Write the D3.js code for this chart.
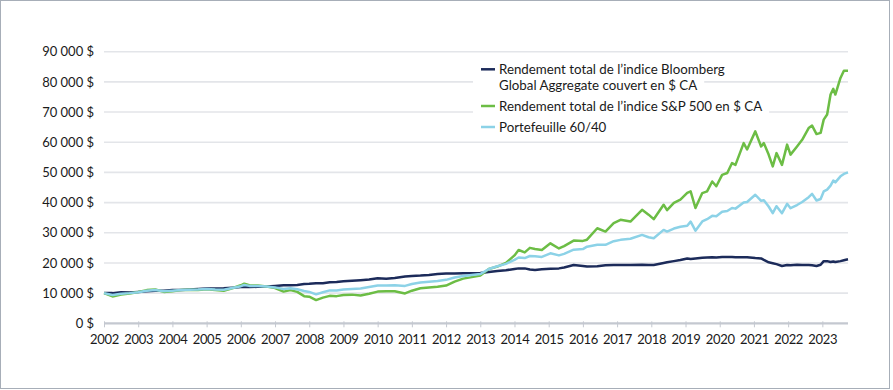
<!DOCTYPE html>
<html lang="fr">
<head>
<meta charset="utf-8">
<script src="https://cdn.jsdelivr.net/npm/d3@7"></script>
<style>
  html, body { margin: 0; padding: 0; background: #fff; }
  svg { display: block; font-family: Lato, "Open Sans", sans-serif; }
</style>
</head>
<body>
<svg id="chart"></svg>
<script>
// dates as decimal years, as placed on the chart's axis
const dates = [
  2002.00, 2002.25, 2002.50, 2002.75, 2003.00, 2003.25, 2003.50, 2003.75,
  2004.00, 2004.25, 2004.50, 2004.75, 2005.00, 2005.25, 2005.50, 2005.75,
  2006.00, 2006.10, 2006.25, 2006.50, 2006.75, 2007.00, 2007.25, 2007.45,
  2007.65, 2007.85, 2008.00, 2008.20, 2008.40, 2008.60, 2008.80, 2009.00,
  2009.25, 2009.50, 2009.75, 2010.00, 2010.25, 2010.50, 2010.80, 2011.00,
  2011.25, 2011.50, 2011.75, 2012.00, 2012.25, 2012.50, 2012.75, 2013.00,
  2013.25, 2013.50, 2013.75, 2014.00, 2014.12, 2014.30, 2014.45, 2014.60,
  2014.80, 2015.05, 2015.30, 2015.45, 2015.73, 2016.00, 2016.12, 2016.42,
  2016.66, 2016.90, 2017.10, 2017.39, 2017.73, 2017.92, 2018.07, 2018.36,
  2018.46, 2018.66, 2018.85, 2019.05, 2019.15, 2019.29, 2019.49, 2019.63,
  2019.78, 2019.90, 2020.07, 2020.22, 2020.36, 2020.46, 2020.70, 2020.80,
  2021.04, 2021.21, 2021.29, 2021.43, 2021.55, 2021.66, 2021.82, 2021.97,
  2022.07, 2022.26, 2022.41, 2022.60, 2022.70, 2022.83, 2022.95, 2023.04,
  2023.14, 2023.24, 2023.32, 2023.38, 2023.53, 2023.63, 2023.75
];

const bloomberg = [
  10000, 10000, 10300, 10200, 10400, 10600, 10800, 10800,
  11000, 11000, 11200, 11400, 11500, 11500, 11600, 11800,
  12000, 12000, 12000, 12100, 12200, 12400, 12600, 12600,
  12700, 13000, 13100, 13300, 13300, 13600, 13700, 13900,
  14100, 14300, 14500, 14900, 14800, 15000, 15500, 15700,
  15800, 16000, 16300, 16500, 16500, 16600, 16600, 16700,
  17000, 17300, 17600, 18000, 18200, 18200, 17800, 17700,
  17900, 18100, 18200, 18500, 19300, 19000, 18800, 18900,
  19200, 19300, 19350, 19300, 19400, 19300, 19350, 20000,
  20200, 20600, 21000, 21500, 21300, 21500, 21700, 21800,
  21900, 21800, 22000, 22000, 22000, 21900, 21900, 21900,
  21600, 21500, 21000, 20200, 19900, 19600, 19000, 19300,
  19200, 19400, 19300, 19300, 19200, 19000, 19400, 20600,
  20600, 20300, 20500, 20300, 20600, 20900, 21200
];

const sp500 = [
  10000, 8900, 9500, 9900, 10400, 11000, 11200, 10400,
  10600, 11000, 11100, 11000, 11300, 11000, 10800, 11600,
  12600, 13100, 12600, 12500, 12200, 11700, 10500, 11000,
  10400, 9000, 8800, 7700, 8500, 9100, 9000, 9400,
  9500, 9200, 9800, 10500, 10600, 10600, 9900, 10800,
  11600, 11900, 12100, 12500, 13800, 14800, 15300, 15800,
  18000, 18800, 20000, 22500, 24300, 23500, 25000, 24600,
  24300, 26500, 24800, 25600, 27400, 27300, 27700, 31500,
  30400, 33200, 34300, 33700, 37600, 36000, 34500, 39300,
  37500, 39900, 41000, 43200, 43700, 38200, 43150, 43700,
  47000, 45400, 49200, 49800, 53100, 52500, 59700, 57600,
  63600, 58600, 59700, 55900, 52000, 56400, 52500, 59200,
  55900, 58600, 60800, 64700, 65500, 62700, 63100, 67500,
  69200, 75800, 77700, 75800, 81300, 83700, 83700
];

const portfolio6040 = [
  10000, 9400, 9800, 10000, 10300, 10800, 11000, 10600,
  10800, 11000, 11100, 11200, 11400, 11200, 11100, 11700,
  12300, 12700, 12400, 12400, 12200, 11900, 11400, 11600,
  11300, 10700, 10400, 9600, 10300, 10900, 10900, 11200,
  11400, 11500, 12000, 12500, 12500, 12600, 12400, 13000,
  13500, 13800, 14000, 14400, 15200, 15700, 16000, 16300,
  18000, 18900, 19700, 21000, 21800, 21600, 22300, 22200,
  22000, 23200, 22500, 23000, 24400, 24600, 25400, 26000,
  26000, 27200, 27650, 28000, 29300, 28500, 28200, 30950,
  30400, 31400, 32000, 32300, 33700, 30700, 33750, 34500,
  35600, 35500, 37000, 37200, 38200, 38000, 40000, 40200,
  42600, 40600, 40800, 38700, 36500, 38800, 36500, 39600,
  38150, 39200, 40200, 41800, 42900, 40700, 41200, 43700,
  44300, 45600, 47300, 46700, 48700, 49500, 50000
];

const seriesNames = [
  ["Rendement total de l\u2019indice Bloomberg", "Global Aggregate couvert en $ CA"],
  ["Rendement total de l\u2019indice S&P 500 en $ CA"],
  ["Portefeuille 60/40"]
];
const seriesColors = ["#1c2b5a", "#6cbd45", "#8cd2e7"];
const seriesValues = [bloomberg, sp500, portfolio6040];

const yTicks = [0, 10000, 20000, 30000, 40000, 50000, 60000, 70000, 80000, 90000];
const xTicks = d3.range(2002, 2024);

const width = 893, height = 390;
const svg = d3.select('#chart').attr('width', width).attr('height', height);

// outer frame
svg.append('rect')
  .attr('x', 0.5).attr('y', 0.5)
  .attr('width', 889).attr('height', 388)
  .attr('fill', '#fff')
  .attr('stroke', '#a7aeb8');

const x = d3.scaleLinear().domain([2002, 2023.75]).range([104, 848]);
const y = d3.scaleLinear().domain([0, 90000]).range([323.3, 51.7]);

const fmt = v => d3.format(',')(v).replace(/,/g, '\u202f') + '\u202f$';

// grid
svg.append('g')
  .selectAll('line')
  .data(yTicks.filter(d => d > 0))
  .join('line')
  .attr('x1', x.range()[0]).attr('x2', x.range()[1])
  .attr('y1', d => y(d)).attr('y2', d => y(d))
  .attr('stroke', '#e3e5e9')
  .attr('stroke-width', 1.6);

// y axis labels
const yAxis = d3.axisLeft(y).tickValues(yTicks).tickFormat(fmt).tickSize(0).tickPadding(10);
svg.append('g')
  .attr('transform', `translate(${x.range()[0]},0)`)
  .call(yAxis)
  .call(g => g.select('.domain').remove())
  .call(g => g.selectAll('text')
    .attr('font-size', 13).attr('fill', '#1a1a1a')
    .attr('letter-spacing', -0.2)
    .attr('font-family', 'Lato, sans-serif'));

// x axis
const xAxis = d3.axisBottom(x).tickValues(xTicks).tickFormat(d3.format('d')).tickSize(4).tickPadding(7);
svg.append('g')
  .attr('transform', `translate(0,${y(0)})`)
  .call(xAxis)
  .call(g => g.select('.domain')
    .attr('d', `M${x.range()[0]},0H${x.range()[1]}`)
    .attr('stroke', '#c4c8d0').attr('stroke-width', 2.2))
  .call(g => g.selectAll('.tick line')
    .attr('y1', -2).attr('y2', 4)
    .attr('stroke', '#c4c8d0').attr('stroke-width', 1))
  .call(g => g.selectAll('text')
    .attr('font-size', 13).attr('fill', '#1a1a1a')
    .attr('letter-spacing', -0.3)
    .attr('font-family', 'Lato, sans-serif'));

// lines
const line = d3.line()
  .x((d, i) => x(dates[i]))
  .y(d => y(d));

seriesValues.forEach((vals, k) => {
  svg.append('path')
    .datum(vals)
    .attr('fill', 'none')
    .attr('stroke', seriesColors[k])
    .attr('stroke-width', 2.5)
    .attr('stroke-linejoin', 'round')
    .attr('d', line);
});

// legend
const legend = svg.append('g');
const entryBaselines = [[74.3, 89.9], [111], [132]];
seriesNames.forEach((lines, k) => {
  const g = legend.append('g');
  lines.forEach((txt, j) => {
    const bg = g.append('rect').attr('fill', '#fff');
    const t = g.append('text')
      .attr('x', 499).attr('y', entryBaselines[k][j])
      .attr('font-size', 13.3).attr('fill', '#1a1a1a')
      .text(txt);
    const w = t.node().getComputedTextLength();
    bg.attr('x', 473).attr('y', entryBaselines[k][j] - 11)
      .attr('width', w + 26 + 7).attr('height', 15);
    t.raise();
  });
  g.append('line')
    .attr('x1', 481).attr('x2', 495)
    .attr('y1', entryBaselines[k][0] - 5).attr('y2', entryBaselines[k][0] - 5)
    .attr('stroke', seriesColors[k]).attr('stroke-width', 2.5);
});
</script>
</body>
</html>
